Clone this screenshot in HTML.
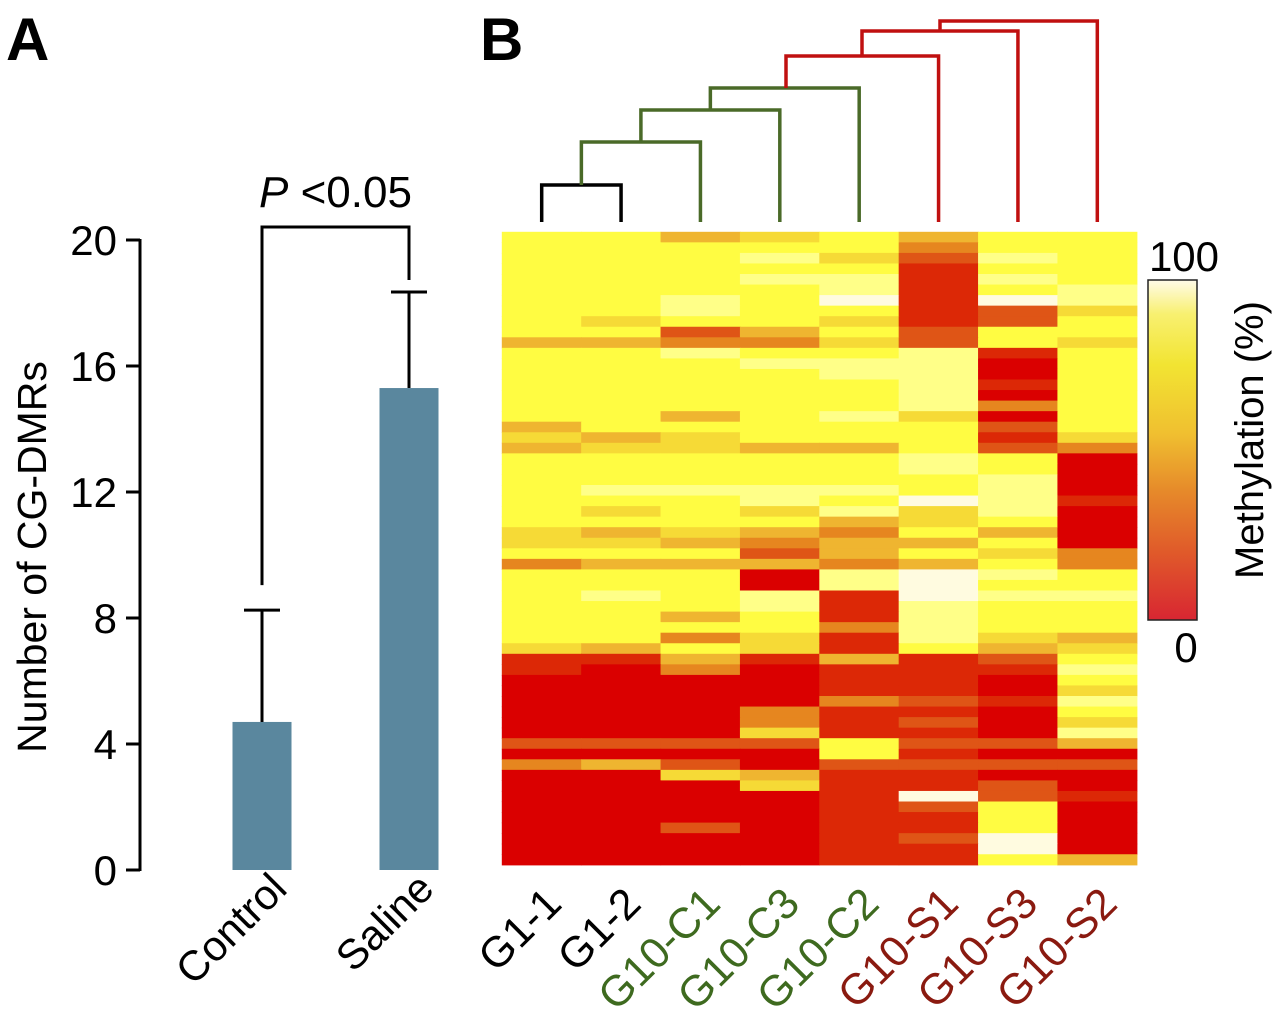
<!DOCTYPE html>
<html><head><meta charset="utf-8"><style>
html,body{margin:0;padding:0;background:#fff;}
svg{display:block;font-family:"Liberation Sans",Arial,sans-serif;}
</style></head><body>
<svg id="fig" width="1280" height="1020" viewBox="0 0 1280 1020" xmlns="http://www.w3.org/2000/svg">
<defs>
<linearGradient id="cbar" x1="0" y1="0" x2="0" y2="1">
<stop offset="0" stop-color="#fffbe8"/>
<stop offset="0.1" stop-color="#f8f070"/>
<stop offset="0.25" stop-color="#f2e432"/>
<stop offset="0.45" stop-color="#f0c030"/>
<stop offset="0.62" stop-color="#e68a2a"/>
<stop offset="0.8" stop-color="#e05a2a"/>
<stop offset="1" stop-color="#d82632"/>
</linearGradient>
</defs>
<text x="6" y="60" font-size="60" font-weight="bold">A</text>
<text x="480" y="60" font-size="60" font-weight="bold">B</text>
<g id="barchart"></g>
<g id="heat"></g>
<g id="dendro"></g>
<g>
<rect x="1148" y="280" width="49" height="340" fill="url(#cbar)" stroke="#222" stroke-width="1.5"/>
<text x="1184" y="271" font-size="42" text-anchor="middle">100</text>
<text x="1186" y="662" font-size="42" text-anchor="middle">0</text>
<text transform="translate(1263,440) rotate(-90)" font-size="40" text-anchor="middle">Methylation (%)</text>
</g>
</svg>
<script>
const NS="http://www.w3.org/2000/svg";
function mk(tag,attrs,parent){const e=document.createElementNS(NS,tag);for(const k in attrs)e.setAttribute(k,attrs[k]);parent.appendChild(e);return e;}

// ---- Panel A data ----
const barCategories=["Control","Saline"];
const barValues=[4.7,15.3];
const barErrors=[3.55,3.05];
const yTicks=[0,4,8,12,16,20];

// ---- Panel B data ----
const sampleLabels=["G1-1","G1-2","G10-C1","G10-C3","G10-C2","G10-S1","G10-S3","G10-S2"];
const sampleGroups=["g1","g1","c","c","c","s","s","s"];
const heatRows=[
"yyagyayy","yyyyyoyy","yyylgdly","yyyyyryy","yyyllrly","yyyylryl","yylywrwl","yylyyrdg","ygyygrdy","yydaydyy",
"aaoogdyg","yylyylry","yyylllRy","yyyyllRy","yyyyylry","yyyyylRy","yyyyyloy","yyaylgRy","ayyyyydy","gagyyyrg",
"aggaaydo","yyyyylyR","yyyyylyR","yyyyyylR","yllllylR","yyylywlr","ygyglglR","yyyyagyR","gagaoyaR","ggaoaayR",
"yyydaygo","oaaaoayo","yyyRlwly","yyyRlwyy","ylylrwll","yyylrlyy","yyayrlyy","yyyyolyy","yyogrlga","gaygryag",
"rrarardy","rRoRrrrl","RRRRrrRy","RRRRrrRg","RRRRodrl","RRRorrRy","RRRordRg","RRRgrrRl","ddddydda","RRRRyrRR",
"oadRdddd","RRgarrRR","RRRgrrdR","RRRRrwdr","RRRRrdyR","RRRRrryR","RRdRrryR","RRRRrdwR","RRRRrrwR","RRRRrrya"
];
const colorKey={y:"#fffc42",l:"#ffff88",w:"#fffbe0",g:"#f6da36",a:"#efb530",o:"#e6861f",d:"#df5516",r:"#dc2806",R:"#da0000"};

// ---- Panel A drawing ----
const A=document.getElementById("barchart");
const y0=870,pxPerUnit=31.5,axisX=140;
const yScale=v=>y0-v*pxPerUnit;
const barCenters=[262,409],barW=59;
mk("line",{x1:axisX,y1:yScale(20)-1,x2:axisX,y2:y0+1,stroke:"#000","stroke-width":3,},A);
yTicks.forEach(t=>{
  const tl=mk("line",{x1:axisX-14,y1:yScale(t),x2:axisX,y2:yScale(t),stroke:"#000","stroke-width":3},A);
  
  
  const tx=mk("text",{x:axisX-23,y:yScale(t)+15,"font-size":42,"text-anchor":"end"},A);
  tx.textContent=t;
  
  
});
const yt=mk("text",{transform:"translate(46,557) rotate(-90)","font-size":41,"text-anchor":"middle"},A);
yt.textContent="Number of CG-DMRs";


barCategories.forEach((c,i)=>{
  const cx=barCenters[i];
  const b=mk("rect",{x:cx-barW/2,y:yScale(barValues[i]),width:barW,height:y0-yScale(barValues[i]),fill:"#5a879e"},A);
  
  
  const top=yScale(barValues[i]+barErrors[i]);
  const e1=mk("line",{x1:cx,y1:yScale(barValues[i]),x2:cx,y2:top,stroke:"#000","stroke-width":3},A);
  
  
  const e2=mk("line",{x1:cx-18,y1:top,x2:cx+18,y2:top,stroke:"#000","stroke-width":3},A);
  
  
  const lb=mk("text",{transform:`translate(${cx+27},${891}) rotate(-45)`,"font-size":42,"text-anchor":"end"},A);
  lb.textContent=c;
  
  
});
const brY=227;
const br=mk("path",{d:`M${barCenters[0]},${yScale(barValues[0]+barErrors[0])-25} V${brY} H${barCenters[1]} V${yScale(barValues[1]+barErrors[1])-12}`,fill:"none",stroke:"#000","stroke-width":3},A);


const pt=mk("text",{x:(barCenters[0]+barCenters[1])/2,y:207,"font-size":44,"text-anchor":"middle"},A);
pt.innerHTML='<tspan font-style="italic">P</tspan> &lt;0.05';



// ---- Heatmap drawing ----
const H=document.getElementById("heat");
const hx0=502,hx1=1137,hy0=232,hy1=865;
const nCols=sampleLabels.length,nRows=heatRows.length;
const colW=(hx1-hx0)/nCols,rowH=(hy1-hy0)/nRows;
const colX=i=>hx0+i*colW;
const rowY=r=>hy0+r*rowH;
heatRows.forEach((row,r)=>{
  for(let c=0;c<nCols;c++){
    const cell=mk("rect",{x:colX(c)-0.2,y:rowY(r)-0.2,width:colW+0.6,height:rowH+0.6,fill:colorKey[row[c]]||"#fffc42"},H);
    
    
  }
});
const groupColor={g1:"#000",c:"#3e6a1f",s:"#8a1a10"};
sampleLabels.forEach((s,i)=>{
  const cx=colX(i)+colW/2;
  const t=mk("text",{transform:`translate(${cx+22},${906}) rotate(-45)`,"font-size":43,"text-anchor":"end",fill:groupColor[sampleGroups[i]]},H);
  t.textContent=s;
  
  
});

// ---- Dendrogram ----
const D=document.getElementById("dendro");
const leafY=222;
const lc=i=>colX(i)+colW/2;
const merges=[
  [lc(0),leafY,lc(1),leafY,185,"#000"],
  [(lc(0)+lc(1))/2,185,lc(2),leafY,142,"#4a6a28"],
  [((lc(0)+lc(1))/2+lc(2))/2,142,lc(3),leafY,110,"#4a6a28"],
  [(((lc(0)+lc(1))/2+lc(2))/2+lc(3))/2,110,lc(4),leafY,88,"#4a6a28"],
  [786,88,lc(5),leafY,56,"#c01010"],
  [862,56,lc(6),leafY,31,"#c01010"],
  [940,31,lc(7),leafY,21,"#c01010"]
];
merges.forEach(m=>{
  const p=mk("path",{d:`M${m[0]},${m[1]} V${m[4]} H${m[2]} V${m[3]}`,fill:"none",stroke:m[5],"stroke-width":3.5},D);
  
  
});
</script>
</body></html>
